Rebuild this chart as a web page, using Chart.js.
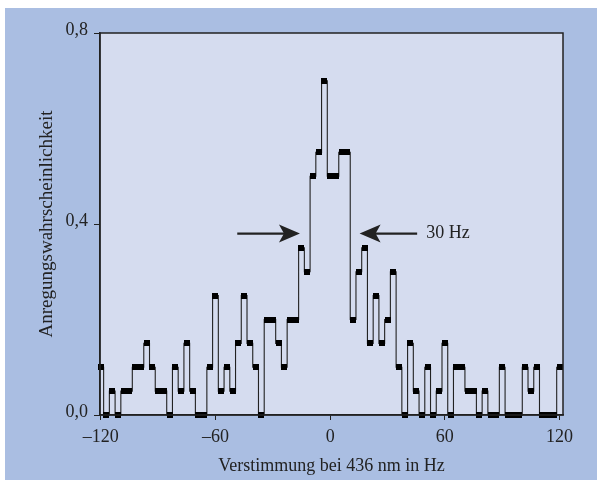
<!DOCTYPE html>
<html>
<head>
<meta charset="utf-8">
<script src="https://cdn.jsdelivr.net/npm/chart.js@4"></script>
<style>
    body { margin: 0; background: #fff; }
    #panel { position: absolute; left: 5px; top: 8px; width: 592px; height: 472px; background: #aabee2; }
    canvas { display: block; }
</style>
</head>
<body>
<div id="panel"><canvas id="chart" width="592" height="472"></canvas></div>
<script>
// Detuning (Hz) of each measurement point
var freqHz = [
    -120, -117, -114, -111, -108, -105, -102, -99, -96, -93,
    -90, -87, -84, -81, -78, -75, -72, -69, -66, -63,
    -60, -57, -54, -51, -48, -45, -42, -39, -36, -33,
    -30, -27, -24, -21, -18, -15, -12, -9, -6, -3,
    0, 3, 6, 9, 12, 15, 18, 21, 24, 27,
    30, 33, 36, 39, 42, 45, 48, 51, 54, 57,
    60, 63, 66, 69, 72, 75, 78, 81, 84, 87,
    90, 93, 96, 99, 102, 105, 108, 111, 114, 117,
    120
];

// Excitation probability
var excitation = [
    0.10, 0.00, 0.05, 0.00, 0.05, 0.05, 0.10, 0.10, 0.15, 0.10,
    0.05, 0.05, 0.00, 0.10, 0.05, 0.15, 0.05, 0.00, 0.00, 0.10,
    0.25, 0.05, 0.10, 0.05, 0.15, 0.25, 0.15, 0.10, 0.00, 0.20,
    0.20, 0.15, 0.10, 0.20, 0.20, 0.35, 0.30, 0.50, 0.55, 0.70,
    0.50, 0.50, 0.55, 0.55, 0.20, 0.30, 0.35, 0.15, 0.25, 0.15,
    0.20, 0.30, 0.10, 0.00, 0.15, 0.05, 0.00, 0.10, 0.00, 0.05,
    0.15, 0.00, 0.10, 0.10, 0.05, 0.05, 0.00, 0.05, 0.00, 0.00,
    0.10, 0.00, 0.00, 0.00, 0.10, 0.05, 0.10, 0.00, 0.00, 0.00,
    0.10
];

var xTicks = [-120, -60, 0, 60, 120];
var xTickLabels = ['\u2013120', '\u201360', '0', '60', '120'];
var yTicks = [0, 0.4, 0.8];
var yTickLabels = ['0,0', '0,4', '0,8'];

var FONT = "'Liberation Serif', 'DejaVu Serif', serif";
var INK = '#222';

// Small black block used as the point marker
var marker = document.createElement('canvas');
marker.width = 6;
marker.height = 6;
var mctx = marker.getContext('2d');
mctx.fillStyle = '#000';
mctx.fillRect(0, 0, 6, 6);

function arrow(ctx, x0, x1, y) {
    var dir = x1 > x0 ? 1 : -1;
    ctx.beginPath();
    ctx.moveTo(x0, y);
    ctx.lineTo(x1 - dir * 14, y);
    ctx.stroke();
    ctx.beginPath();
    ctx.moveTo(x1, y);
    ctx.lineTo(x1 - dir * 21, y - 9);
    ctx.lineTo(x1 - dir * 16, y);
    ctx.lineTo(x1 - dir * 21, y + 9);
    ctx.closePath();
    ctx.fill();
}

var decorations = {
    id: 'decorations',
    beforeDraw: function(chart) {
        var a = chart.chartArea, ctx = chart.ctx;
        ctx.save();
        ctx.fillStyle = '#d5dcef';
        ctx.fillRect(a.left, a.top, a.right - a.left, a.bottom - a.top);
        ctx.restore();
    },
    afterDraw: function(chart) {
        var a = chart.chartArea, ctx = chart.ctx;
        var xs = chart.scales.x, ys = chart.scales.y;
        ctx.save();
        ctx.strokeStyle = INK;
        ctx.lineWidth = 1.5;
        ctx.strokeRect(a.left, a.top, a.right - a.left, a.bottom - a.top);

        // FWHM arrows
        var y = ys.getPixelForValue(0.38);
        ctx.fillStyle = INK;
        ctx.lineWidth = 2.2;
        arrow(ctx, xs.getPixelForValue(-48.6), xs.getPixelForValue(-15.8), y);
        arrow(ctx, xs.getPixelForValue(45.5), xs.getPixelForValue(15.4), y);
        ctx.font = '18px ' + FONT;
        ctx.textBaseline = 'middle';
        ctx.textAlign = 'left';
        ctx.fillText('30 Hz', xs.getPixelForValue(50.2), y);
        ctx.restore();
    }
};

var points = freqHz.map(function(f, i) { return { x: f, y: excitation[i] }; });

new Chart(document.getElementById('chart'), {
    type: 'line',
    data: {
        datasets: [{
            data: points,
            stepped: 'middle',
            borderColor: '#222',
            borderWidth: 1.1,
            pointStyle: marker,
            pointRadius: 3,
            clip: false,
            fill: false
        }]
    },
    options: {
        responsive: false,
        devicePixelRatio: 1,
        animation: false,
        layout: { padding: { top: 25, right: 34, left: 0, bottom: 0 } },
        plugins: { legend: { display: false }, tooltip: { enabled: false } },
        scales: {
            x: {
                type: 'linear',
                min: -120.4,
                max: 121.8,
                afterBuildTicks: function(scale) {
                    scale.ticks = xTicks.map(function(v) { return { value: v }; });
                },
                afterFit: function(scale) { scale.height = 65; },
                grid: { drawOnChartArea: false, drawTicks: true, tickLength: 5, color: INK },
                border: { color: INK, width: 1.5 },
                ticks: {
                    padding: 6,
                    color: INK,
                    font: { family: FONT, size: 18 },
                    callback: function(v) { return xTickLabels[xTicks.indexOf(v)]; }
                },
                title: {
                    display: true,
                    text: 'Verstimmung bei 436 nm in Hz',
                    color: INK,
                    font: { family: FONT, size: 18 },
                    padding: { top: 0, bottom: 3 }
                }
            },
            y: {
                type: 'linear',
                min: 0,
                max: 0.8,
                afterBuildTicks: function(scale) {
                    scale.ticks = yTicks.map(function(v) { return { value: v }; });
                },
                afterFit: function(scale) { scale.width = 95; },
                grid: { drawOnChartArea: false, drawTicks: true, tickLength: 6, color: INK },
                border: { color: INK, width: 1.5 },
                ticks: {
                    padding: 6,
                    labelOffset: -3,
                    color: INK,
                    font: { family: FONT, size: 18 },
                    callback: function(v) { return yTickLabels[yTicks.indexOf(v)]; }
                },
                title: {
                    display: true,
                    text: 'Anregungswahrscheinlichkeit',
                    color: INK,
                    font: { family: FONT, size: 19 },
                    padding: { top: 31, bottom: 0 }
                }
            }
        }
    },
    plugins: [decorations]
});
</script>
</body>
</html>
